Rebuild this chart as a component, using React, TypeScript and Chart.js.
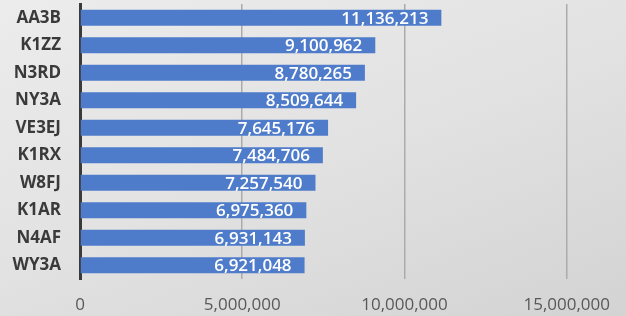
import React, { useEffect, useRef } from "react";
import { Chart, registerables } from "chart.js";

Chart.register(...registerables);

const categories = ["AA3B", "K1ZZ", "N3RD", "NY3A", "VE3EJ", "K1RX", "W8FJ", "K1AR", "N4AF", "WY3A"];
const scores = [11136213, 9100962, 8780265, 8509644, 7645176, 7484706, 7257540, 6975360, 6931143, 6921048];
const xTicks = [0, 5000000, 10000000, 15000000];

const fmt = (v: number) => v.toLocaleString("en-US");

const valueLabels = {
  id: "valueLabels",
  afterDatasetsDraw(chart: any) {
    const ctx = chart.ctx;
    const meta = chart.getDatasetMeta(0);
    ctx.save();
    ctx.fillStyle = "#ffffff";
    ctx.font = "600 17px 'Open Sans'";
    ctx.textAlign = "right";
    ctx.textBaseline = "middle";
    meta.data.forEach((bar: any, i: number) => {
      ctx.fillText(fmt(scores[i]), bar.x - 13, bar.y + 1);
    });
    ctx.restore();
  },
};

export default function App() {
  const ref = useRef<HTMLCanvasElement>(null);
  useEffect(() => {
    if (!ref.current) return;
    const chart = new Chart(ref.current, {
      type: "bar",
      data: {
        labels: categories,
        datasets: [
          {
            data: scores,
            backgroundColor: "#4f7cca",
            barPercentage: 0.58,
            categoryPercentage: 1,
          },
        ],
      },
      options: {
        indexAxis: "y",
        animation: false,
        responsive: false,
        maintainAspectRatio: false,
        layout: { padding: { top: 4, right: 58, left: 0, bottom: 0 } },
        plugins: { legend: { display: false }, tooltip: { enabled: false } },
        scales: {
          x: {
            min: 0,
            max: 15000000,
            afterBuildTicks: (scale: any) => {
              scale.ticks = xTicks.map((v) => ({ value: v }));
            },
            afterFit: (scale: any) => {
              scale.height = 37;
            },
            grid: { color: "#ababab", lineWidth: 1.5, drawTicks: false },
            border: { display: false },
            ticks: {
              color: "#595959",
              font: { family: "'Open Sans'", size: 17 },
              padding: 16,
              maxRotation: 0,
              callback: (v: any) => fmt(Number(v)),
            },
          },
          y: {
            afterFit: (scale: any) => {
              scale.width = 80;
              scale.paddingTop = 0;
              scale.paddingBottom = 0;
            },
            grid: { display: false, drawTicks: false },
            border: { display: true, color: "#3a3a3a", width: 3 },
            ticks: {
              color: "#3a3a3a",
              font: { family: "'Open Sans'", size: 17, weight: "bold" },
              padding: 19,
            },
          },
        },
      },
      plugins: [valueLabels],
    });
    return () => chart.destroy();
  }, []);
  return (
    <div
      style={{
        position: "fixed",
        left: 0,
        top: 0,
        width: 626,
        height: 316,
        background: "linear-gradient(160deg, #ececec 0%, #e2e2e2 50%, #d3d3d3 100%)",
      }}
    >
      <canvas ref={ref} width={626} height={316} />
    </div>
  );
}
